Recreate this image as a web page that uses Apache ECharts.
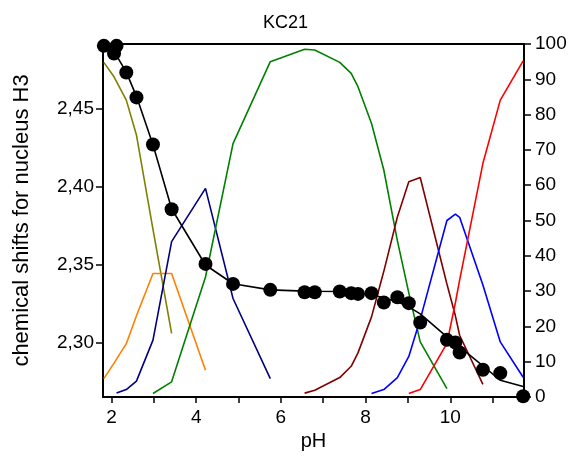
<!DOCTYPE html>
<html>
<head>
<meta charset="utf-8">
<script src="https://cdn.jsdelivr.net/npm/echarts@6/dist/echarts.min.js"></script>
<style>
  html, body { margin: 0; padding: 0; background: #fff; }
  #chart { width: 571px; height: 460px; }
</style>
</head>
<body>
<div id="chart"></div>
<script>
// Titration points (pH) shared by the measured shifts, the fitted curve and the species distribution
const pH = [1.82, 2.06, 2.12, 2.35, 2.59, 2.98, 3.42, 4.22, 4.87, 5.75, 6.56, 6.80, 7.39,
            7.66, 7.82, 8.14, 8.43, 8.75, 9.02, 9.29, 9.92, 10.12, 10.22, 10.77, 11.18, 11.72];

// Observed chemical shifts of H3 (ppm)
const shiftObs = [2.4903, 2.4854, 2.4903, 2.4733, 2.4573, 2.4272, 2.3857, 2.3507, 2.3379, 2.3341,
                  2.3326, 2.3326, 2.3330, 2.3320, 2.3315, 2.3320, 2.3260, 2.3294, 2.3256, 2.3132,
                  2.3021, 2.3004, 2.2940, 2.2829, 2.2808, 2.2660];

// Calculated (fitted) chemical shifts
const shiftFit = [2.4905, 2.4860, 2.4840, 2.4735, 2.4580, 2.4270, 2.3860, 2.3500, 2.3380, 2.3341,
                  2.3333, 2.3332, 2.3330, 2.3325, 2.3320, 2.3310, 2.3290, 2.3264, 2.3232, 2.3187,
                  2.3040, 2.3002, 2.2976, 2.2855, 2.2762, 2.2722];

// Species distribution (% of ligand), null where the species is not plotted
const speciesOlive  = [94.8, 90.7, null, 84.1, 74.2, 47.5, 18.0, null, null, null, null, null, null,
                       null, null, null, null, null, null, null, null, null, null, null, null, null];
const speciesOrange = [5.2, 9.6, null, 15.1, 23.0, 35.0, 35.0, 7.6, null, null, null, null, null,
                       null, null, null, null, null, null, null, null, null, null, null, null, null];
const speciesNavy   = [null, null, 1.1, 2.1, 4.5, 16.1, 44.0, 59.1, 27.9, 5.2, null, null, null,
                       null, null, null, null, null, null, null, null, null, null, null, null, null];
const speciesGreen  = [null, null, null, null, null, 1.0, 4.3, 34.0, 71.8, 95.0, 98.5, 98.3, 94.8,
                       91.7, 87.9, 77.5, 64.3, 44.3, 29.5, 15.6, 2.4, null, null, null, null, null];
const speciesMaroon = [null, null, null, null, null, null, null, null, null, null, 1.1, 1.9, 5.5,
                       8.7, 12.5, 22.7, 35.6, 51.0, 61.0, 62.2, 32.0, 23.0, 17.5, 3.6, null, null];
const speciesBlue   = [null, null, null, null, null, null, null, null, null, null, null, null, null,
                       null, null, 1.0, 2.1, 5.5, 11.5, 22.0, 50.0, 51.8, 50.9, 31.7, 15.6, 5.6];
const speciesRed    = [null, null, null, null, null, null, null, null, null, null, null, null, null,
                       null, null, null, null, null, 1.0, 2.1, 15.2, 26.7, 33.1, 66.2, 84.1, 95.2];

// Axis ticks and labels
const xTicks = [2, 3, 4, 5, 6, 7, 8, 9, 10, 11];
const xLabels = [2, 4, 6, 8, 10];
const shiftLabels = [2.30, 2.35, 2.40, 2.45];

const FONT = "'Liberation Sans', Arial, sans-serif";

function pairs(ys) {
  const out = [];
  ys.forEach((y, i) => { if (y !== null) out.push([pH[i], y]); });
  return out;
}

function speciesSeries(ys, color) {
  return {
    type: 'line',
    xAxisIndex: 0,
    yAxisIndex: 1,
    data: pairs(ys),
    showSymbol: false,
    symbol: 'none',
    lineStyle: { color: color, width: 1.6 },
    z: 2
  };
}

const axisLineStyle = { lineStyle: { color: '#000', width: 2 } };

const chart = echarts.init(document.getElementById('chart'), null, { renderer: 'canvas' });

chart.setOption({
  animation: false,
  backgroundColor: '#fff',
  title: {
    text: 'KC21',
    left: 'center',
    top: 9,
    textStyle: { fontFamily: FONT, fontSize: 18, fontWeight: 'normal', color: '#000' }
  },
  grid: { left: 103, right: 47, top: 44, bottom: 63 },
  xAxis: [
    {
      type: 'value',
      position: 'bottom',
      min: 1.80,
      max: 11.74,
      name: 'pH',
      nameLocation: 'middle',
      nameGap: 33,
      nameTextStyle: { fontFamily: FONT, fontSize: 20, color: '#000' },
      axisLine: axisLineStyle,
      axisTick: { show: true, length: 6, customValues: xTicks, lineStyle: { color: '#000', width: 1.5 } },
      axisLabel: { customValues: xLabels, margin: 11, fontFamily: FONT, fontSize: 19, color: '#000' },
      splitLine: { show: false }
    },
    {
      type: 'value',
      position: 'top',
      min: 1.80,
      max: 11.74,
      axisLine: axisLineStyle,
      axisTick: { show: false },
      axisLabel: { show: false },
      splitLine: { show: false }
    }
  ],
  yAxis: [
    {
      type: 'value',
      position: 'left',
      min: 2.2655,
      max: 2.4915,
      name: 'chemical shifts for nucleus H3',
      nameLocation: 'middle',
      nameGap: 70,
      nameRotate: 90,
      nameTextStyle: { fontFamily: FONT, fontSize: 22, color: '#000' },
      axisLine: { show: true, lineStyle: { color: '#000', width: 2 } },
      axisTick: { show: true, length: 7, customValues: shiftLabels, lineStyle: { color: '#000', width: 1.5 } },
      axisLabel: {
        customValues: shiftLabels,
        margin: 9,
        fontFamily: FONT,
        fontSize: 19,
        color: '#000',
        formatter: v => v.toFixed(2).replace('.', ',')
      },
      splitLine: { show: false }
    },
    {
      type: 'value',
      position: 'right',
      min: 0,
      max: 100,
      interval: 10,
      axisLine: { show: true, lineStyle: { color: '#000', width: 2 } },
      axisTick: { show: true, length: 7, lineStyle: { color: '#000', width: 1.5 } },
      axisLabel: { margin: 11, fontFamily: FONT, fontSize: 19, color: '#000' },
      splitLine: { show: false }
    }
  ],
  series: [
    speciesSeries(speciesOlive, '#808000'),
    speciesSeries(speciesOrange, '#ff8000'),
    speciesSeries(speciesNavy, '#000080'),
    speciesSeries(speciesGreen, '#008000'),
    speciesSeries(speciesMaroon, '#800000'),
    speciesSeries(speciesBlue, '#0000ff'),
    speciesSeries(speciesRed, '#ff0000'),
    {
      type: 'line',
      xAxisIndex: 0,
      yAxisIndex: 0,
      data: pH.map((x, i) => [x, shiftFit[i]]),
      showSymbol: false,
      symbol: 'none',
      lineStyle: { color: '#000', width: 1.6 },
      z: 3
    },
    {
      type: 'scatter',
      xAxisIndex: 0,
      yAxisIndex: 0,
      data: pH.map((x, i) => [x, shiftObs[i]]),
      symbol: 'circle',
      symbolSize: 14,
      itemStyle: { color: '#000', opacity: 1 },
      emphasis: { disabled: true },
      clip: false,
      z: 4
    }
  ]
});
</script>
</body>
</html>
